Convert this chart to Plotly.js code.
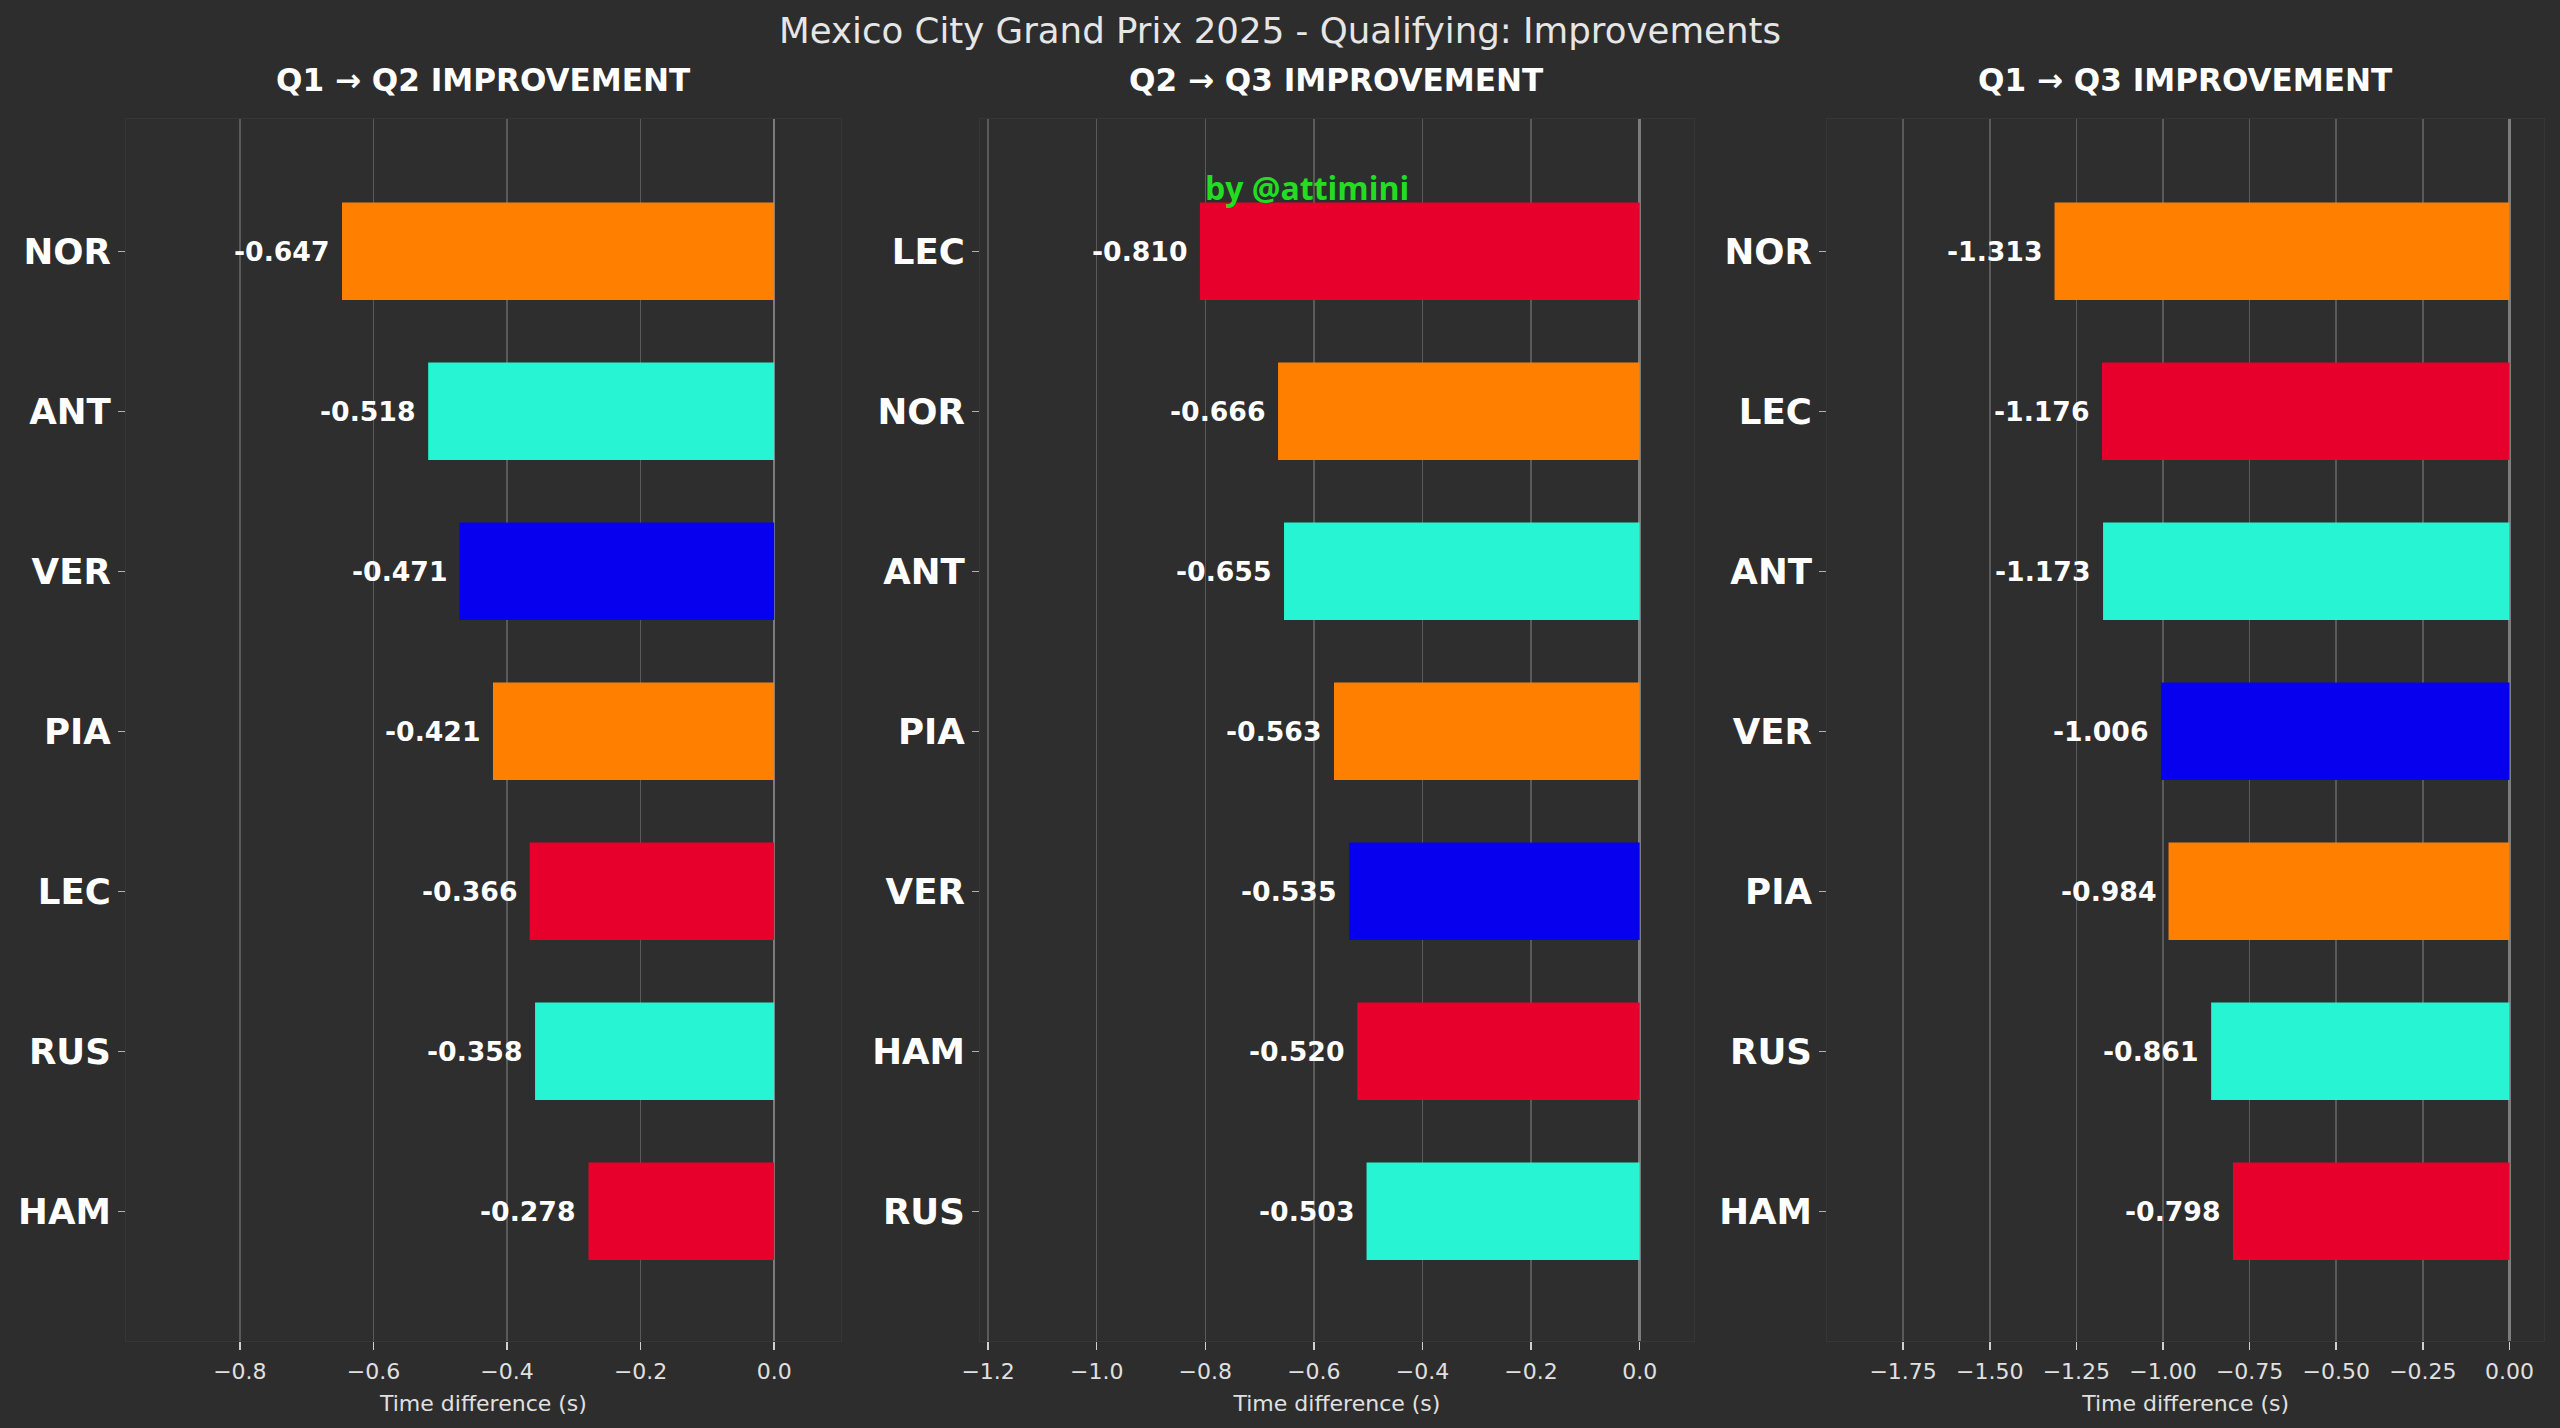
<!DOCTYPE html>
<html>
<head>
<meta charset="utf-8">
<script src="https://cdn.plot.ly/plotly-3.0.1.min.js"></script>
<style>
  html, body { margin: 0; padding: 0; background: #2d2d2d; }
  #chart { width: 2560px; height: 1428px; }
</style>
</head>
<body>
<div id="chart"></div>
<script>
// qualifying improvements
var drivers1 = ["NOR", "ANT", "VER", "PIA", "LEC", "RUS", "HAM"];
var diffs1 = [-0.647, -0.518, -0.471, -0.421, -0.366, -0.358, -0.278];

var drivers2 = ["LEC", "NOR", "ANT", "PIA", "VER", "HAM", "RUS"];
var diffs2 = [-0.810, -0.666, -0.655, -0.563, -0.535, -0.520, -0.503];

var drivers3 = ["NOR", "LEC", "ANT", "VER", "PIA", "RUS", "HAM"];
var diffs3 = [-1.313, -1.176, -1.173, -1.006, -0.984, -0.861, -0.798];

var panelTitles = ["Q1 \u2192 Q2 IMPROVEMENT", "Q2 \u2192 Q3 IMPROVEMENT", "Q1 \u2192 Q3 IMPROVEMENT"];
var teamColors = {
  NOR: "#ff8000", PIA: "#ff8000",
  ANT: "#27f4d2", RUS: "#27f4d2",
  VER: "#0600ef",
  LEC: "#e8002d", HAM: "#e8002d"
};

var panels = [
  {drivers: drivers1, diffs: diffs1, dtick: 0.2, fmt: ".1f"},
  {drivers: drivers2, diffs: diffs2, dtick: 0.2, fmt: ".1f"},
  {drivers: drivers3, diffs: diffs3, dtick: 0.25, fmt: ".2f"}
];
var domains = [[0.0492, 0.3285], [0.3828, 0.6617], [0.7137, 0.9938]];
var yDomain = [0.0610, 0.9170];

var font = "DejaVu Sans, sans-serif";
var data = [];
var annotations = [];
var layout = {
  width: 2560,
  height: 1428,
  paper_bgcolor: "#2d2d2d",
  plot_bgcolor: "#2e2e2e",
  margin: {l: 0, r: 0, t: 0, b: 0},
  showlegend: false,
  bargap: 0.39,
  title: {
    text: "Mexico City Grand Prix 2025 - Qualifying: Improvements",
    font: {family: font, size: 35.6, color: "#e6e6e6"},
    x: 0.5, xanchor: "center",
    y: 1 - 31 / 1428, yanchor: "middle"
  }
};

panels.forEach(function(p, i) {
  var n = i + 1;
  var xa = n === 1 ? "x" : "x" + n;
  var ya = n === 1 ? "y" : "y" + n;
  var minVal = Math.min.apply(null, p.diffs);

  data.push({
    type: "bar",
    orientation: "h",
    x: p.diffs,
    y: p.drivers,
    xaxis: xa,
    yaxis: ya,
    marker: {color: p.drivers.map(function(d) { return teamColors[d]; })},
    hoverinfo: "x+y"
  });

  layout["xaxis" + (n === 1 ? "" : n)] = {
    domain: domains[i],
    anchor: ya,
    range: [minVal * 1.5, 0.1],
    dtick: p.dtick,
    tick0: 0,
    tickformat: p.fmt,
    showgrid: true,
    gridcolor: "#5a5a5a",
    gridwidth: 1.5,
    zeroline: true,
    zerolinecolor: "#7c7c7c",
    zerolinewidth: 2.5,
    showline: true,
    mirror: true,
    linecolor: "#363636",
    linewidth: 1,
    ticks: "outside",
    ticklen: 8,
    tickwidth: 1.5,
    tickcolor: "#d0d0d0",
    ticklabelstandoff: 3,
    tickfont: {family: font, size: 22, color: "#e0e0e0"},
    title: {text: "Time difference (s)", font: {family: font, size: 22, color: "#e0e0e0"}, standoff: 12},
    fixedrange: true
  };

  layout["yaxis" + (n === 1 ? "" : n)] = {
    domain: yDomain,
    anchor: xa,
    type: "category",
    range: [6.81, -0.83],
    showgrid: false,
    zeroline: false,
    showline: true,
    mirror: true,
    linecolor: "#363636",
    linewidth: 1,
    ticks: "outside",
    ticklen: 7,
    tickwidth: 1.5,
    tickcolor: "#b0b0b0",
    tickfont: {family: font, size: 35.6, color: "#ffffff", weight: "bold"},
    fixedrange: true
  };

  // value labels at the left end of each bar
  p.diffs.forEach(function(v, k) {
    annotations.push({
      xref: xa, yref: ya,
      x: v, y: p.drivers[k],
      text: v.toFixed(3),
      showarrow: false,
      xanchor: "right",
      yanchor: "middle",
      xshift: -10,
      font: {family: font, size: 26.7, color: "#ffffff", weight: "bold"}
    });
  });

  annotations.push({
    xref: "paper", yref: "paper",
    x: (domains[i][0] + domains[i][1]) / 2,
    y: 1 - 80 / 1428,
    text: panelTitles[i],
    showarrow: false,
    xanchor: "center",
    yanchor: "middle",
    font: {family: font, size: 31.1, color: "#ffffff", weight: "bold"}
  });
});

annotations.push({
  xref: "paper", yref: "paper",
  x: 1203 / 2560, y: 1 - 188 / 1428,
  xanchor: "left", yanchor: "middle",
  text: "by @attimini",
  showarrow: false,
  font: {family: "Open Sans, sans-serif", size: 32, color: "#22dd22", weight: 700}
});

layout.annotations = annotations;

Plotly.newPlot("chart", data, layout, {displayModeBar: false, staticPlot: true});
</script>
</body>
</html>
